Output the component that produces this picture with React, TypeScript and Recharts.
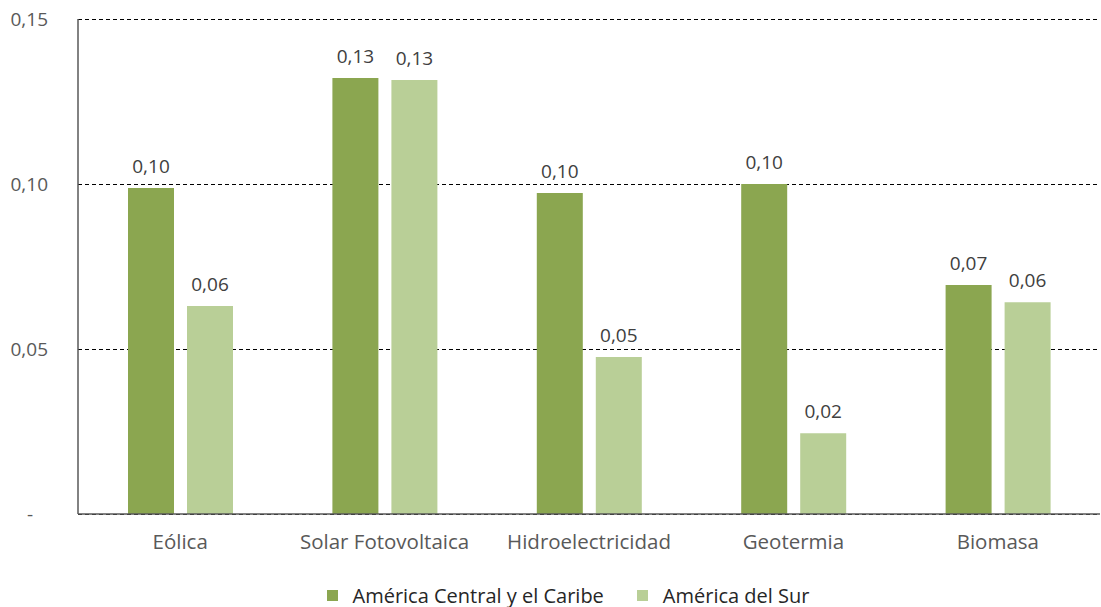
import React from 'react'
import { BarChart, Bar, XAxis, YAxis, CartesianGrid, Legend, LabelList } from 'recharts'

const CATEGORIES = ['Eólica', 'Solar Fotovoltaica', 'Hidroelectricidad', 'Geotermia', 'Biomasa']
const CENTRAL = [0.0988, 0.1321, 0.0973, 0.1, 0.0694]
const SUR = [0.063, 0.1315, 0.0476, 0.0245, 0.0642]
const Y_TICKS = [0, 0.05, 0.1, 0.15]

const SERIES = [
  { key: 'central', name: 'América Central y el Caribe', color: '#8BA650' },
  { key: 'sur', name: 'América del Sur', color: '#B9CF97' },
]

const data = CATEGORIES.map((c, i) => ({ cat: c, central: CENTRAL[i], sur: SUR[i] }))

const FONT = '"Open Sans", sans-serif'

const fmt = (v: number) => (v === 0 ? '-\u00a0\u00a0\u00a0' : v.toFixed(2).replace('.', ','))

function LegendContent() {
  return (
    <div style={{ display: 'flex', justifyContent: 'center', gap: 33, paddingTop: 18, paddingLeft: 36, fontFamily: FONT, fontSize: 20, color: '#262626' }}>
      {SERIES.map(s => (
        <div key={s.key} style={{ display: 'flex', alignItems: 'center' }}>
          <span style={{ display: 'inline-block', width: 11, height: 11, background: s.color, marginRight: 15 }} />
          <span>{s.name}</span>
        </div>
      ))}
    </div>
  )
}

export default function App() {
  return (
    <div style={{ width: 1101, height: 607, background: '#fff' }}>
      <style>{'body{margin:0}'}</style>
      <BarChart
        width={1101}
        height={607}
        data={data}
        margin={{ top: 19, right: 1, left: 0, bottom: 0 }}
        barGap={13}
        barSize={46}
        style={{ fontFamily: FONT }}
      >
        <CartesianGrid vertical={false} stroke="#000" strokeDasharray="4 3" shapeRendering="crispEdges" />
        <XAxis
          dataKey="cat"
          height={50}
          tickLine={false}
          tickMargin={14}
          axisLine={{ stroke: '#595959', strokeWidth: 1.5 }}
          tick={{ fontSize: 20.5, fill: '#595959' }}
          interval={0}
        />
        <YAxis
          width={78}
          domain={[0, 0.15]}
          ticks={Y_TICKS}
          tickFormatter={fmt}
          tickLine={false}
          tickMargin={24}
          axisLine={{ stroke: '#595959', strokeWidth: 1.5 }}
          tick={{ fontSize: 19, fill: '#595959' }}
        />
        <Legend verticalAlign="bottom" height={43} content={<LegendContent />} />
        {SERIES.map(s => (
          <Bar key={s.key} dataKey={s.key} name={s.name} fill={s.color} isAnimationActive={false}>
            <LabelList
              dataKey={s.key}
              position="top"
              offset={15}
              formatter={(v: any) => fmt(Number(v))}
              style={{ fontSize: 19, fill: '#404040', fontFamily: FONT }}
            />
          </Bar>
        ))}
      </BarChart>
    </div>
  )
}
